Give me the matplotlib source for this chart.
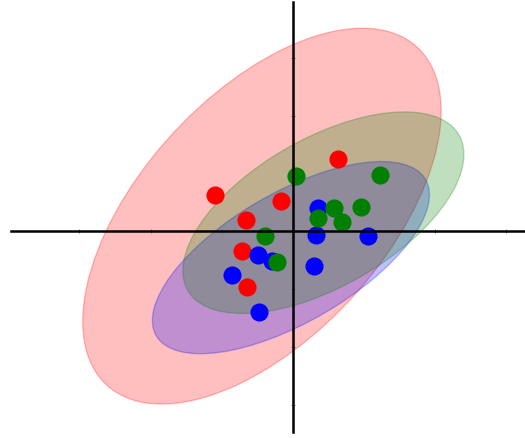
import matplotlib
matplotlib.use("Agg")
import matplotlib.pyplot as plt
from matplotlib.patches import Ellipse

# scatter points per group (data units)
red_x = [-1.09, 0.64, -0.17, -0.66, -0.72, -0.64]
red_y = [0.63, 1.26, 0.52, 0.20, -0.34, -0.96]
green_x = [0.04, 1.23, 0.58, 0.96, 0.35, 0.69, -0.39, -0.23]
green_y = [0.96, 0.97, 0.40, 0.42, 0.23, 0.17, -0.08, -0.53]
blue_x = [0.35, 0.33, 1.06, -0.49, -0.30, 0.29, -0.85, -0.48]
blue_y = [0.41, -0.06, -0.08, -0.41, -0.51, -0.60, -0.76, -1.39]

# confidence ellipses: center, width, height, angle (deg)
ell_colors = ["red", "blue", "green"]
ell_cx = [-0.435, -0.028, 0.428]
ell_cy = [0.265, -0.453, 0.325]
ell_w = [7.35, 4.67, 4.69]
ell_h = [3.69, 2.10, 2.40]
ell_angle = [57.4, 38.2, 38.9]

ticks = [-3, -2, -1, 1, 2, 3]

fig = plt.figure(figsize=(5.25, 4.39), dpi=100)
ax = fig.add_axes([11 / 525, 6 / 439, 514 / 525, 430 / 439])
ax.set_xlim(-3.96, 3.26)
ax.set_ylim(-3.47, 3.97)

for c, cx, cy, w, h, a in zip(ell_colors, ell_cx, ell_cy, ell_w, ell_h, ell_angle):
    ax.add_patch(Ellipse((cx, cy), w, h, angle=a, facecolor=c, edgecolor=c,
                         alpha=0.25, linewidth=1.0, zorder=1))

ax.scatter(red_x, red_y, s=170, color="red", linewidths=0, zorder=3)
ax.scatter(blue_x, blue_y, s=170, color="blue", linewidths=0, zorder=3)
ax.scatter(green_x, green_y, s=170, color="green", linewidths=0, zorder=3)

for side in ["top", "right"]:
    ax.spines[side].set_visible(False)
for side in ["left", "bottom"]:
    ax.spines[side].set_position("zero")
    ax.spines[side].set_linewidth(1.8)
    ax.spines[side].set_zorder(4)

ax.set_xticks(ticks)
ax.set_yticks(ticks)
ax.tick_params(direction="inout", length=3, width=0.6, colors="#666666",
               labelbottom=False, labelleft=False)

fig.savefig("out.png", dpi=100)
